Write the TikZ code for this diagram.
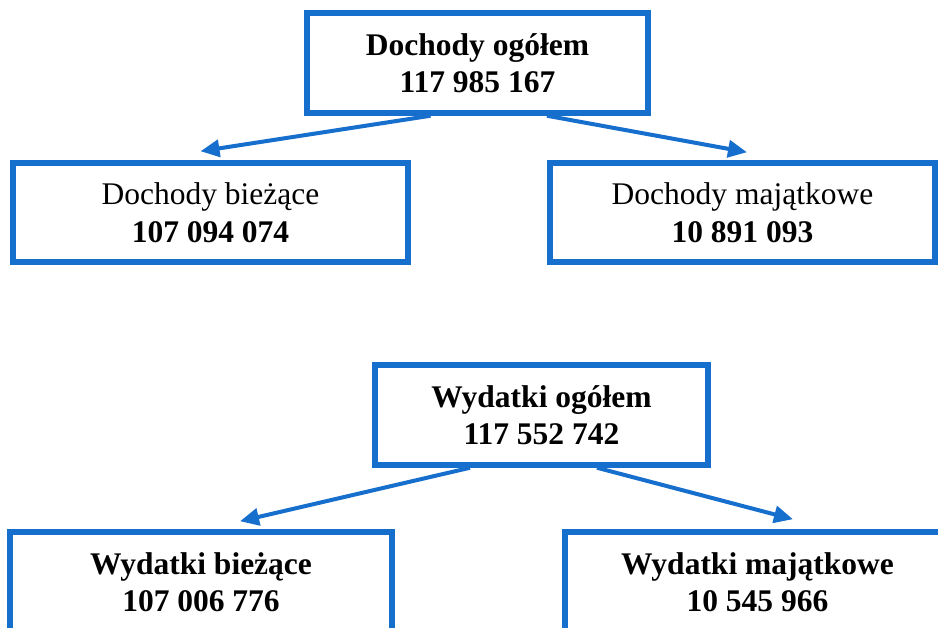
\documentclass[tikz,border=0pt]{standalone}
\usepackage{fontspec}
\setmainfont{Liberation Serif}
\usetikzlibrary{arrows.meta}
\definecolor{boxblue}{RGB}{22,110,205}

\begin{document}
\begin{tikzpicture}[x=1pt, y=-1pt,
  box/.style={draw=boxblue, line width=5.5pt, fill=white, align=center, inner sep=0pt,
    font=\fontsize{31.5}{37.5}\selectfont},
  link/.style={draw=boxblue, line width=4pt, -{Stealth[length=19pt,width=17pt,inset=0pt]}}]

% Define the frame
\useasboundingbox (0,0) rectangle (938,628);
\clip (0,0) rectangle (938,628);

% Income boxes
\node[box, minimum width=341pt, minimum height=100pt] (dog) at (477.5,63)
  {\textbf{Dochody ogółem}\\\textbf{117 985 167}};
\node[box, minimum width=395pt, minimum height=99pt] (dbiez) at (210.5,212.5)
  {Dochody bieżące\\\textbf{107 094 074}};
\node[box, minimum width=385pt, minimum height=99pt] (dmaj) at (742.5,212.5)
  {Dochody majątkowe\\\textbf{10 891 093}};

% Expense boxes
\node[box, minimum width=333pt, minimum height=100pt] (wog) at (541.5,415)
  {\textbf{Wydatki ogółem}\\\textbf{117 552 742}};
\node[box, minimum width=382pt, minimum height=100pt] (wbiez) at (201,582)
  {\textbf{Wydatki bieżące}\\\textbf{107 006 776}};
\node[box, minimum width=385pt, minimum height=100pt] (wmaj) at (757.5,582)
  {\textbf{Wydatki majątkowe}\\\textbf{10 545 966}};

% Draw arrows
\draw[link] ([xshift=-47pt]dog.south) -- ([xshift=-10pt,yshift=9pt]dbiez.north);
\draw[link] ([xshift=69.5pt]dog.south) -- ([xshift=4.5pt,yshift=8pt]dmaj.north);
\draw[link] ([xshift=-71.5pt]wog.south) -- ([xshift=39pt,yshift=8pt]wbiez.north);
\draw[link] ([xshift=55.5pt]wog.south) -- ([xshift=35.5pt,yshift=10pt]wmaj.north);
\end{tikzpicture}
\end{document}
